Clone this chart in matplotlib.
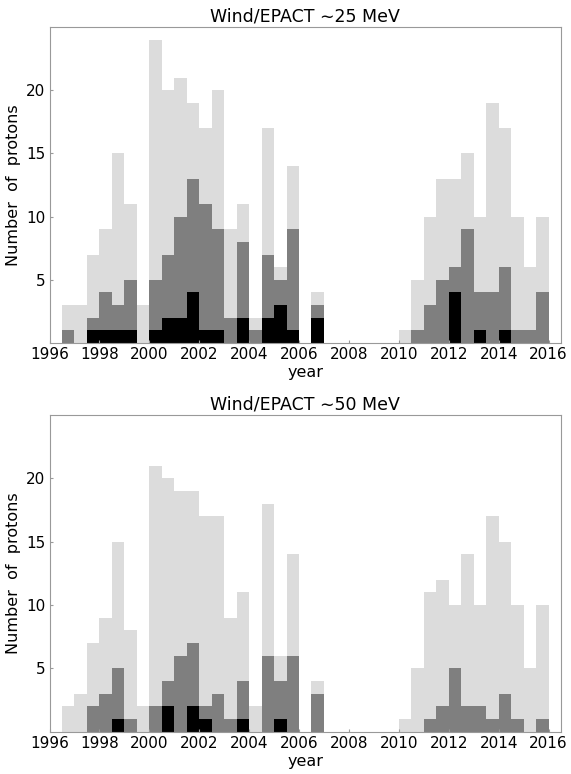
import matplotlib
matplotlib.use("Agg")
import matplotlib.pyplot as plt

# half-year bins (left edges), years 1996.5 ... 2015.5
bin_edges = [1996.5 + 0.5 * i for i in range(39)]

# ~25 MeV panel (counts per half-year bin)
light_25 = [3, 3, 7, 9, 15, 11, 3, 24, 20, 21, 19, 17, 20, 9, 11, 2, 17, 6, 14, 0, 4,
            0, 0, 0, 0, 0, 0,
            1, 5, 10, 13, 13, 15, 10, 19, 17, 10, 6, 10]
dark_25 = [1, 0, 2, 4, 3, 5, 0, 5, 7, 10, 13, 11, 9, 2, 8, 1, 7, 5, 9, 0, 3,
           0, 0, 0, 0, 0, 0,
           0, 1, 3, 5, 6, 9, 4, 4, 6, 1, 1, 4]
black_25 = [0, 0, 1, 1, 1, 1, 0, 1, 2, 2, 4, 1, 1, 0, 2, 0, 2, 3, 1, 0, 2,
            0, 0, 0, 0, 0, 0,
            0, 0, 0, 0, 4, 0, 1, 0, 1, 0, 0, 0]

# ~50 MeV panel
light_50 = [2, 3, 7, 9, 15, 8, 2, 21, 20, 19, 19, 17, 17, 9, 11, 2, 18, 6, 14, 0, 4,
            0, 0, 0, 0, 0, 0,
            1, 5, 11, 12, 10, 14, 10, 17, 15, 10, 5, 10]
dark_50 = [0, 0, 2, 3, 5, 1, 0, 2, 4, 6, 7, 2, 3, 1, 4, 0, 6, 4, 6, 0, 3,
           0, 0, 0, 0, 0, 0,
           0, 0, 1, 2, 5, 2, 2, 1, 3, 1, 0, 1]
black_50 = [0, 0, 0, 0, 1, 0, 0, 0, 2, 0, 2, 1, 0, 0, 1, 0, 0, 1, 0, 0, 0,
            0, 0, 0, 0, 0, 0,
            0, 0, 0, 0, 0, 0, 0, 0, 0, 0, 0, 0]

titles = ["Wind/EPACT \u223c25 MeV", "Wind/EPACT \u223c50 MeV"]
xticks = list(range(1996, 2017, 2))
yticks = [5, 10, 15, 20]

fig = plt.figure(figsize=(5.71, 7.74), dpi=100)
ax1 = fig.add_axes([0.0867, 0.5568, 0.8958, 0.4083])
ax2 = fig.add_axes([0.0867, 0.0546, 0.8958, 0.4092])

for ax, title, (lt, dk, bk) in zip(
        [ax1, ax2], titles,
        [(light_25, dark_25, black_25), (light_50, dark_50, black_50)]):
    ax.bar(bin_edges, lt, width=0.5, align='edge', color='#dcdcdc', linewidth=0)
    ax.bar(bin_edges, dk, width=0.5, align='edge', color='#7f7f7f', linewidth=0)
    ax.bar(bin_edges, bk, width=0.5, align='edge', color='#000000', linewidth=0)
    ax.set_xlim(1996, 2016.5)
    ax.set_ylim(0, 25)
    ax.set_xticks(xticks)
    ax.set_yticks(yticks)
    ax.tick_params(direction='in', length=2, color='#999999', labelsize=11, pad=3)
    for s in ax.spines.values():
        s.set_color('#999999')
    ax.set_title(title, fontsize=12.5, pad=4)
    ax.set_xlabel("year", fontsize=11.5, labelpad=2)
    ax.set_ylabel("Number  of  protons", fontsize=11.5, labelpad=4)

fig.savefig("out.png", dpi=100)
